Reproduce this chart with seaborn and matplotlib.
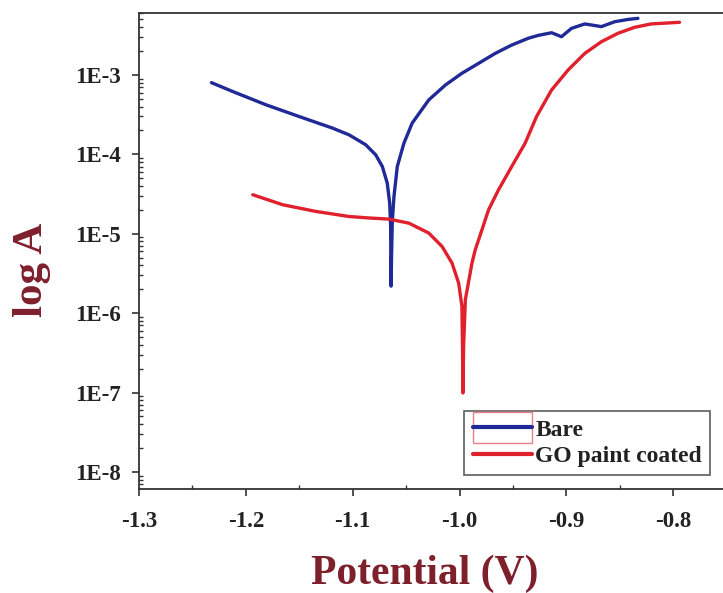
import matplotlib
matplotlib.use("Agg")
import matplotlib.pyplot as plt
import seaborn as sns
import pandas as pd
from matplotlib.ticker import FixedLocator, FixedFormatter, LogLocator, NullFormatter, MultipleLocator
from matplotlib.patches import Rectangle
from matplotlib.legend_handler import HandlerPatch, HandlerTuple

sns.set_theme(style="white")
plt.rcParams['font.family'] = ['Liberation Serif', 'DejaVu Serif']

bare_potential = [-1.2322, -1.2121, -1.1810, -1.1500, -1.1189, -1.1034, -1.0878, -1.0785, -1.0723,
                  -1.0677, -1.0654, -1.0645, -1.0643, -1.0641, -1.0637, -1.0630, -1.0614, -1.0583,
                  -1.0521, -1.0444, -1.0288, -1.0132, -0.9978, -0.9822, -0.9666, -0.9512, -0.9356,
                  -0.9263, -0.9139, -0.9046, -0.8953, -0.8828, -0.8673, -0.8548, -0.8424, -0.8331]
bare_current = [8.0e-4, 6.17e-4, 4.20e-4, 2.99e-4, 2.14e-4, 1.76e-4, 1.32e-4, 9.86e-5, 7.03e-5,
                4.35e-5, 2.43e-5, 1.24e-5, 3.98e-6, 2.19e-6, 5.0e-6, 1.41e-5, 2.94e-5, 7.03e-5,
                1.38e-4, 2.47e-4, 4.85e-4, 7.48e-4, 1.05e-3, 1.40e-3, 1.87e-3, 2.38e-3, 2.90e-3,
                3.15e-3, 3.40e-3, 3.03e-3, 3.86e-3, 4.39e-3, 4.06e-3, 4.68e-3, 5.00e-3, 5.16e-3]

go_potential = [-1.1935, -1.1655, -1.1344, -1.1034, -1.0847, -1.0661, -1.0474, -1.0288, -1.0164,
                -1.0071, -1.0009, -0.9978, -0.9972, -0.9969, -0.9962, -0.9946, -0.9884, -0.9853,
                -0.9791, -0.9729, -0.9636, -0.9512, -0.9387, -0.9280, -0.9139, -0.8983, -0.8828,
                -0.8673, -0.8517, -0.8362, -0.8207, -0.7942]
go_current = [3.10e-5, 2.32e-5, 1.91e-5, 1.65e-5, 1.58e-5, 1.53e-5, 1.36e-5, 1.02e-5, 6.92e-6,
              4.28e-6, 2.40e-6, 1.22e-6, 3.16e-7, 9.9e-8, 3.98e-7, 1.48e-6, 4.28e-6, 6.30e-6,
              1.12e-5, 2.00e-5, 3.57e-5, 7.03e-5, 1.38e-4, 2.99e-4, 6.47e-4, 1.16e-3, 1.87e-3,
              2.62e-3, 3.35e-3, 3.98e-3, 4.39e-3, 4.60e-3]

x_ticks = [-1.3, -1.2, -1.1, -1.0, -0.9, -0.8]
x_labels = ["-1.3", "-1.2", "-1.1", "-1.0", "-0.9", "-0.8"]
y_ticks = [1e-8, 1e-7, 1e-6, 1e-5, 1e-4, 1e-3]
y_labels = ["1E-8", "1E-7", "1E-6", "1E-5", "1E-4", "1E-3"]

df = pd.concat([
    pd.DataFrame({"Potential": bare_potential, "Current": bare_current, "Sample": "Bare"}),
    pd.DataFrame({"Potential": go_potential, "Current": go_current, "Sample": "GO paint coated"}),
])

BLUE = "#1f2a96"
RED = "#e0202c"

fig = plt.figure(figsize=(7.23, 5.93), dpi=100)
ax = fig.add_axes([139/723, 1 - 489/593, 1 - 139/723, (489 - 13)/593])

sns.lineplot(data=df, x="Potential", y="Current", hue="Sample", sort=False, estimator=None,
             palette={"Bare": BLUE, "GO paint coated": RED}, linewidth=2.4, ax=ax,
             legend=False)
ax.set_yscale("log")
ax.set_xlim(-1.3, -0.7535)
ax.set_ylim(10**-8.214, 10**-2.22)

ax.xaxis.set_major_locator(FixedLocator(x_ticks))
ax.xaxis.set_major_formatter(FixedFormatter(x_labels))
ax.xaxis.set_minor_locator(MultipleLocator(0.05))
ax.yaxis.set_major_locator(FixedLocator(y_ticks))
ax.yaxis.set_major_formatter(FixedFormatter(y_labels))
ax.yaxis.set_minor_locator(LogLocator(base=10, subs=range(2, 10)))
ax.yaxis.set_minor_formatter(NullFormatter())

for s in ["left", "bottom", "top"]:
    ax.spines[s].set_color("#333333")
    ax.spines[s].set_linewidth(1.3)
ax.spines["right"].set_visible(False)

ax.tick_params(axis="both", which="major", direction="out", length=5, width=1.2, color="#333333",
               labelsize=16.5, labelcolor="#222222", left=True, bottom=True)
ax.tick_params(axis="x", which="major", pad=11)
ax.tick_params(axis="y", which="major", pad=8)
ax.tick_params(axis="both", which="minor", direction="in", length=3, width=1.0, color="#333333",
               left=True, bottom=True)
for lab in ax.get_xticklabels() + ax.get_yticklabels():
    lab.set_fontweight("bold")

ax.set_xlabel("Potential (V)", fontsize=30, fontweight="bold", color="#7e1f2c")
ax.set_ylabel("log A", fontsize=31, fontweight="bold", color="#7e1f2c")
ax.xaxis.set_label_coords(0.49, -0.138)
ax.yaxis.set_label_coords(-0.15, 0.46)

# legend
bare_line = plt.Line2D([], [], color=BLUE, lw=3)
go_line = plt.Line2D([], [], color=RED, lw=3)
bare_box = Rectangle((0, 0), 1, 1, facecolor="none", edgecolor="#e8808c", lw=1.0)


def tall_rect(legend, orig_handle, xdescent, ydescent, width, height, fontsize):
    return Rectangle((-xdescent, -ydescent - 0.45 * height), width, height * 1.9)


leg = ax.legend([(bare_box, bare_line), go_line], ["Bare", "GO paint coated"],
                handler_map={bare_box: HandlerPatch(patch_func=tall_rect),
                             tuple: HandlerTuple(ndivide=1)},
                loc="lower right", bbox_to_anchor=(0.978, 0.029), frameon=True, fancybox=False,
                prop={"weight": "bold", "size": 17}, handlelength=2.5, handletextpad=0.15,
                borderpad=0.35, labelspacing=0.2, borderaxespad=0)
leg.get_frame().set_edgecolor("#333333")
leg.get_frame().set_linewidth(1.2)
for t in leg.get_texts():
    t.set_color("#222222")

fig.savefig("out.png", dpi=100)
